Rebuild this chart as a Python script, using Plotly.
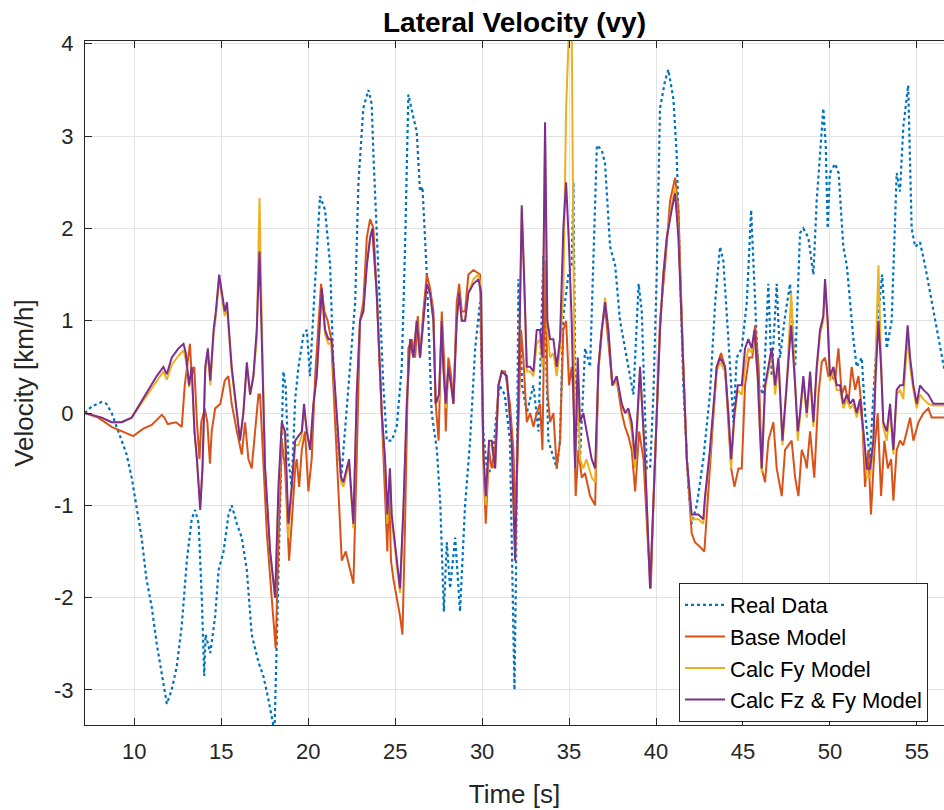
import plotly.graph_objects as go

# ---------------- data ----------------
t_real = [7.15, 7.54, 8.12, 8.4, 8.7, 8.98, 9.27, 9.56, 9.85, 10.13, 10.42, 10.7, 11.0, 11.29, 11.58, 11.87,
          12.15, 12.44, 12.73, 13.02, 13.3, 13.5, 13.7, 13.88, 14.02, 14.1, 14.37, 14.65, 14.85, 15.13, 15.42,
          15.6, 15.9, 16.18, 16.47, 16.75, 17.14, 17.42, 17.71, 17.9, 18.06, 18.19, 18.33, 18.44, 18.57, 18.7,
          18.86, 19.05, 19.25, 19.44, 19.73, 19.92, 20.1, 20.36, 20.68, 20.97, 21.26, 21.45, 21.64, 21.9, 22.12,
          22.4, 22.7, 22.89, 23.17, 23.46, 23.65, 23.75, 24.04, 24.32, 24.52, 24.8, 25.09, 25.38, 25.57, 25.76,
          26.05, 26.24, 26.43, 26.57, 26.82, 27.1, 27.4, 27.6, 27.8, 27.97, 28.16, 28.45, 28.73, 29.02, 29.31,
          29.6, 29.88, 30.07, 30.3, 30.6, 30.75, 31.0, 31.3, 31.6, 31.86, 31.95, 32.09, 32.3, 32.57, 32.95,
          33.24, 33.52, 33.81, 34.29, 34.48, 34.67, 34.96, 35.15, 35.25, 35.35, 35.63, 35.92, 36.21, 36.6,
          36.88, 37.07, 37.36, 37.65, 37.93, 38.32, 38.7, 39.0, 39.18, 39.47, 39.66, 39.85, 40.04, 40.23, 40.52,
          40.71, 41.0, 41.19, 41.38, 41.57, 41.86, 42.05, 42.34, 42.72, 43.1, 43.4, 43.68, 43.87, 44.16, 44.45,
          44.64, 44.93, 45.22, 45.47, 45.7, 45.9, 46.17, 46.46, 46.65, 46.94, 47.13, 47.42, 47.71, 48.0, 48.28,
          48.47, 48.76, 49.05, 49.24, 49.43, 49.62, 49.76, 49.87, 50.0, 50.3, 50.5, 50.77, 50.97, 51.16, 51.35,
          51.54, 51.83, 52.02, 52.3, 52.5, 52.8, 53.0, 53.27, 53.55, 53.84, 54.03, 54.22, 54.5, 54.7, 54.9,
          55.18, 55.47, 55.85, 56.24, 56.6]
v_real = [0.0, 0.07, 0.12, 0.1, 0.0, -0.15, -0.3, -0.45, -0.7, -1.0, -1.35, -1.8, -2.1, -2.5, -2.85, -3.15,
          -3.0, -2.75, -2.3, -1.6, -1.15, -1.05, -1.2, -2.0, -2.85, -2.4, -2.6, -2.2, -1.7, -1.5, -1.1,
          -1.0, -1.2, -1.35, -1.7, -2.4, -2.7, -2.85, -3.1, -3.3, -3.45, -2.5, -1.5, -0.6, 0.45, 0.3,
          -0.5, -0.8, 0.15, 0.5, 0.85, 0.9, 0.4, 1.3, 2.35, 2.2, 1.6, 0.5, -0.2, -0.7, -0.15,
          0.5, 1.2, 2.5, 3.3, 3.5, 3.35, 2.8, 1.5, 0.3, -0.3, -0.3, -0.15, 0.5, 1.8, 3.45,
          3.2, 3.05, 2.4, 2.45, 1.5, 0.0, -0.4, -1.0, -2.15, -1.4, -1.9, -1.35, -2.15, -1.0, -0.3,
          0.7, 1.2, -0.2, -0.65, -0.6, -0.15, 0.3, 0.2, -0.3, -3.0, -1.7, 1.45, 0.3, 0.0, 0.3,
          -0.2, 1.7, -0.3, -0.6, -0.3, 1.05, 1.5, 1.6, 2.5, 0.5, -0.5, 0.7, 0.5, 2.9,
          2.85, 2.7, 1.8, 1.6, 1.0, 0.6, 0.2, 1.4, 1.1, -0.6, -0.6, 0.2, 1.5, 3.3, 3.6,
          3.72, 3.4, 2.8, 1.5, 0.3, -0.8, -1.2, -1.0, -0.5, 0.2, 1.2, 1.8, 1.65, 0.8, -0.1,
          0.6, 0.7, 1.2, 2.2, 1.2, 0.3, 0.2, 1.4, 0.4, 1.4, 0.6, 1.05, 1.4, 0.5, 1.95,
          2.0, 1.9, 1.5, 2.3, 2.8, 3.3, 2.9, 2.0, 2.6, 2.7, 2.6, 1.8, 1.6, 1.2, 0.8,
          0.5, 0.6, 0.0, -0.5, 0.2, 1.1, 1.5, 0.7, 1.0, 2.6, 2.4, 3.1, 3.55, 2.0, 1.8,
          1.85, 1.6, 1.2, 0.8, 0.45]

t_base = [7.15, 7.92, 8.7, 9.27, 9.94, 10.52, 11.0, 11.58, 11.73, 11.92, 12.4, 12.73, 12.9, 13.1, 13.2, 13.3,
          13.45, 13.6, 13.75, 13.85, 14.05, 14.2, 14.35, 14.45, 14.65, 14.95, 15.2, 15.41, 15.6, 15.9, 16.18,
          16.37, 16.56, 16.75, 16.94, 17.14, 17.23, 17.42, 17.62, 17.9, 18.13, 18.29, 18.48, 18.67, 18.9, 19.05,
          19.25, 19.34, 19.48, 19.63, 19.82, 20.01, 20.2, 20.4, 20.74, 20.93, 21.12, 21.32, 21.55, 21.74, 21.93,
          22.16, 22.41, 22.6, 22.79, 22.98, 23.17, 23.37, 23.56, 23.75, 23.94, 24.23, 24.42, 24.55, 24.65, 24.76,
          24.9, 25.09, 25.28, 25.42, 25.57, 25.76, 25.96, 26.15, 26.3, 26.43, 26.62, 26.82, 27.01, 27.2, 27.33,
          27.5, 27.68, 27.83, 27.91, 28.06, 28.22, 28.35, 28.54, 28.68, 28.83, 29.02, 29.21, 29.5, 29.88, 30.07,
          30.21, 30.4, 30.55, 30.75, 30.94, 31.13, 31.32, 31.6, 31.8, 31.93, 32.09, 32.24, 32.37, 32.57, 32.76,
          32.95, 33.14, 33.33, 33.47, 33.62, 33.77, 33.91, 34.1, 34.29, 34.48, 34.67, 34.83, 35.0, 35.15, 35.25,
          35.38, 35.54, 35.73, 35.92, 36.21, 36.5, 36.69, 36.88, 37.07, 37.26, 37.49, 37.74, 38.03, 38.22, 38.41,
          38.6, 38.8, 39.03, 39.28, 39.56, 39.7, 39.85, 40.04, 40.23, 40.52, 40.81, 41.1, 41.29, 41.57, 41.77,
          42.05, 42.24, 42.53, 42.78, 42.92, 43.1, 43.3, 43.49, 43.74, 43.97, 44.16, 44.32, 44.51, 44.74, 44.93,
          45.12, 45.35, 45.54, 45.7, 45.9, 46.08, 46.27, 46.46, 46.75, 46.94, 47.23, 47.42, 47.61, 47.8, 48.0,
          48.19, 48.38, 48.57, 48.67, 48.86, 49.1, 49.34, 49.53, 49.72, 49.91, 50.1, 50.3, 50.49, 50.68, 50.87,
          51.06, 51.25, 51.45, 51.64, 51.83, 52.02, 52.21, 52.36, 52.56, 52.75, 52.94, 53.13, 53.33, 53.52, 53.65,
          53.84, 54.03, 54.22, 54.42, 54.61, 54.8, 55.09, 55.38, 55.66, 55.85, 56.24, 56.6]
v_base = [0.0, -0.05, -0.15, -0.2, -0.25, -0.17, -0.13, -0.02, -0.05, -0.12, -0.1, -0.15, 0.3, 0.6, 0.75, 0.4,
          0.5, -0.1, -0.5, -0.1, 0.05, -0.1, -0.55, -0.2, 0.05, 0.1, 0.35, 0.4, 0.1, -0.2, -0.45,
          -0.1, -0.5, -0.6, -0.2, 0.2, 0.2, -0.5, -1.3, -2.0, -2.55, -1.4, -0.3, -0.6, -1.6, -1.2,
          -0.6, -0.5, -0.8, -0.4, -0.2, -0.85, -0.5, 0.4, 1.4, 1.1, 1.0, 0.8, -0.1, -0.9, -1.6,
          -1.5, -1.7, -1.85, -0.5, 1.0, 1.2, 1.9, 2.1, 2.0, 1.3, 0.0, -0.8, -1.5, -0.8, -1.6,
          -1.8, -2.0, -2.2, -2.4, -1.2, 0.7, 0.8, 0.6, 1.05, 0.6, 1.1, 1.5, 1.35, 1.1, 0.1,
          -0.3, 1.1, 0.5, -0.2, 0.6, 0.4, 0.1, 1.2, 1.4, 1.1, 1.1, 1.5, 1.55, 1.5, -0.5,
          -1.2, -0.4, -0.6, -0.4, 0.3, 0.45, 0.45, 0.1, -0.4, -1.2, -0.1, 0.9, 0.6, -0.1, 0.0,
          -0.15, 0.0, 0.1, -0.4, 1.65, 0.2, -0.1, 0.0, -0.6, -0.3, 0.9, 1.0, 0.3, 0.5, 0.2,
          -0.9, -0.4, -0.7, -0.65, -0.9, -1.0, 0.5, 0.9, 1.15, 0.8, 0.3, 0.35, 0.0, -0.15, -0.25,
          -0.4, -0.85, -0.2, -0.5, -1.5, -1.9, -1.0, 0.0, 1.0, 1.6, 2.3, 2.55, 2.2, 0.5, -0.5,
          -1.3, -1.4, -1.45, -1.5, -1.1, -0.6, -0.1, 0.5, 0.65, 0.5, -0.1, -0.6, -0.8, -0.6, -0.6,
          0.3, 0.6, 0.6, 0.95, 0.5, -0.6, -0.75, -0.3, -0.1, -0.6, -0.9, -0.4, -0.35, -0.3, -0.7,
          -0.9, -0.4, -0.5, -0.6, -0.2, -0.7, 0.2, 0.55, 0.6, 0.4, 0.4, 0.35, 0.7, 0.2, 0.3,
          0.1, 0.5, 0.25, 0.4, 0.05, -0.8, -0.4, -1.1, -0.4, 0.0, -0.9, -0.3, -0.6, -0.5, -0.95,
          -0.4, -0.3, -0.35, -0.2, -0.05, -0.3, -0.1, 0.0, 0.05, -0.05, -0.05, -0.05]

t_model = [7.15, 8.12, 8.7, 9.27, 9.85, 10.33, 10.8, 11.29, 11.67, 11.87, 12.15, 12.54, 12.83, 12.96, 13.15,
           13.3, 13.46, 13.6, 13.79, 13.92, 14.08, 14.23, 14.37, 14.56, 14.69, 14.88, 15.04, 15.2, 15.33, 15.46,
           15.6, 15.9, 16.08, 16.27, 16.47, 16.66, 16.85, 17.04, 17.2, 17.33, 17.52, 17.81, 18.1, 18.29, 18.48,
           18.67, 18.86, 19.05, 19.25, 19.44, 19.63, 19.76, 19.92, 20.11, 20.3, 20.49, 20.78, 20.97, 21.16, 21.35,
           21.64, 21.89, 22.02, 22.35, 22.6, 22.79, 22.98, 23.17, 23.37, 23.56, 23.69, 23.94, 24.23, 24.42, 24.55,
           24.7, 24.8, 24.99, 25.28, 25.48, 25.67, 25.86, 26.05, 26.24, 26.43, 26.62, 26.82, 27.01, 27.2, 27.33,
           27.52, 27.68, 27.77, 27.91, 28.06, 28.22, 28.35, 28.54, 28.68, 28.83, 29.02, 29.21, 29.5, 29.79, 29.94,
           30.07, 30.21, 30.4, 30.55, 30.75, 30.94, 31.13, 31.42, 31.7, 31.9, 32.09, 32.28, 32.41, 32.57, 32.76,
           32.95, 33.14, 33.33, 33.47, 33.62, 33.75, 33.91, 34.1, 34.29, 34.48, 34.67, 34.83, 35.0, 35.15, 35.25,
           35.35, 35.5, 35.63, 35.82, 36.0, 36.3, 36.5, 36.69, 36.88, 37.07, 37.26, 37.49, 37.74, 38.03, 38.22,
           38.41, 38.6, 38.8, 39.08, 39.37, 39.66, 39.85, 40.04, 40.23, 40.42, 40.62, 40.9, 41.1, 41.29, 41.57,
           41.77, 42.05, 42.44, 42.72, 42.82, 43.1, 43.3, 43.49, 43.68, 43.97, 44.16, 44.32, 44.51, 44.7, 44.93,
           45.12, 45.31, 45.5, 45.66, 45.85, 45.98, 46.08, 46.27, 46.46, 46.65, 46.85, 47.04, 47.27, 47.52, 47.77,
           48.0, 48.15, 48.28, 48.47, 48.67, 48.86, 49.05, 49.24, 49.43, 49.62, 49.72, 49.87, 50.0, 50.2, 50.39,
           50.58, 50.77, 50.97, 51.16, 51.35, 51.54, 51.73, 51.93, 52.12, 52.31, 52.5, 52.63, 52.79, 52.94, 53.07,
           53.27, 53.46, 53.65, 53.84, 54.03, 54.22, 54.47, 54.61, 54.8, 54.99, 55.18, 55.38, 55.66, 55.95, 56.24,
           56.6]
v_fzfy = [0.0, -0.05, -0.1, -0.1, -0.05, 0.1, 0.25, 0.4, 0.5, 0.42, 0.6, 0.7, 0.75, 0.65, 0.3,
          0.5, -0.2, -0.5, -1.05, -0.6, 0.5, 0.7, 0.35, 0.9, 1.1, 1.5, 1.3, 1.1, 1.2, 0.8,
          0.5, 0.0, -0.3, 0.0, 0.55, 0.2, 0.4, 0.9, 1.75, 0.8, -0.6, -1.5, -2.0, -0.8, -0.1,
          -0.2, -1.2, -0.8, -0.3, -0.25, -0.2, 0.1, -0.2, -0.4, 0.1, 0.4, 1.35, 0.9, 0.8, 0.8,
          0.0, -0.7, -0.75, -0.5, -1.2, 0.2, 1.0, 1.1, 1.6, 1.9, 2.0, 1.3, 0.0, -0.5, -1.1,
          -0.6, -1.1, -1.4, -1.9, -1.0, 0.1, 0.8, 0.6, 1.0, 0.6, 1.0, 1.4, 1.3, 1.0, 0.1,
          0.2, 1.0, 0.5, 0.1, 0.5, 0.3, 0.1, 1.0, 1.3, 1.0, 1.0, 1.3, 1.4, 1.45, 1.3,
          -0.4, -0.9, -0.3, -0.3, -0.6, 0.3, 0.45, 0.4, -0.3, -1.6, 0.2, 2.25, 1.5, 0.5, 0.5,
          0.45, 0.9, 0.9, 0.6, 3.15, 1.0, 0.8, 0.8, 0.5, 0.8, 2.0, 2.5, 1.8, 1.0, 0.3,
          -0.6, 0.6, -0.1, 0.0, -0.2, -0.5, -0.6, 0.5, 0.9, 1.2, 0.9, 0.3, 0.4, 0.1, 0.0,
          0.05, -0.1, -0.5, 0.5, -0.5, -1.9, -1.0, 0.0, 0.9, 1.5, 1.9, 2.2, 2.38, 1.9, 0.4,
          -0.5, -1.1, -1.1, -1.15, -0.9, -0.4, 0.1, 0.5, 0.6, 0.5, 0.0, -0.5, 0.0, 0.3, 0.3,
          0.7, 0.8, 0.7, 0.9, 0.4, -0.2, -0.6, 0.3, 0.5, 0.7, 0.3, 0.6, -0.3, 0.3, 0.95,
          0.3, -0.2, 0.0, 0.4, 0.0, 0.45, -0.1, 0.5, 0.9, 1.05, 1.45, 1.0, 0.4, 0.5, 0.3,
          0.3, 0.1, 0.2, 0.1, 0.15, 0.0, 0.15, -0.2, -0.6, -0.6, -0.3, 0.4, 1.0, 0.5, -0.1,
          -0.2, 0.1, -0.4, 0.25, 0.3, 0.3, 0.95, 0.6, 0.3, 0.1, 0.3, 0.25, 0.2, 0.1, 0.1,
          0.1]
v_fy = [0.0, -0.05, -0.1, -0.1, -0.05, 0.08, 0.22, 0.35, 0.45, 0.36, 0.52, 0.62, 0.68, 0.58, 0.28,
        0.45, -0.2, -0.5, -1.0, -0.6, 0.45, 0.65, 0.3, 0.85, 1.05, 1.45, 1.25, 1.05, 1.15, 0.75,
        0.45, 0.0, -0.3, 0.0, 0.5, 0.2, 0.4, 0.8, 2.33, 1.0, -0.6, -1.5, -2.0, -0.9, -0.15,
        -0.25, -1.35, -0.85, -0.35, -0.35, -0.25, 0.05, -0.2, -0.4, 0.1, 0.4, 1.3, 0.85, 0.75, 0.75,
        0.0, -0.75, -0.8, -0.55, -1.25, 0.2, 1.0, 1.1, 1.6, 1.9, 1.95, 1.3, 0.0, -0.55, -1.2,
        -0.65, -1.15, -1.45, -1.95, -1.05, 0.1, 0.75, 0.6, 1.0, 0.6, 1.0, 1.4, 1.3, 1.0, 0.1,
        0.15, 1.0, 0.5, 0.05, 0.5, 0.3, 0.1, 1.0, 1.3, 1.0, 1.0, 1.3, 1.45, 1.5, 1.35,
        -0.45, -1.0, -0.35, -0.35, -0.6, 0.3, 0.45, 0.4, -0.3, -1.6, 0.2, 2.2, 1.5, 0.45, 0.45,
        0.4, 0.75, 0.8, 0.5, 3.0, 0.9, 0.6, 0.65, 0.4, 0.7, 1.3, 3.3, 4.2, 4.2, 2.0,
        -0.6, 0.3, -0.5, -0.6, -0.5, -0.7, -0.75, 0.45, 0.9, 1.25, 0.9, 0.3, 0.35, 0.1, 0.0,
        0.0, -0.2, -0.6, 0.45, -0.5, -1.9, -1.0, 0.0, 0.9, 1.5, 1.9, 2.25, 2.45, 1.95, 0.4,
        -0.5, -1.15, -1.15, -1.2, -0.95, -0.45, 0.05, 0.45, 0.55, 0.45, 0.0, -0.6, -0.05, 0.25, 0.2,
        0.5, 0.7, 0.65, 0.85, 0.35, -0.2, -0.65, 0.25, 0.45, 0.65, 0.2, 0.55, -0.35, 0.3, 1.3,
        0.3, -0.3, -0.05, 0.35, -0.05, 0.4, -0.15, 0.45, 0.85, 1.0, 1.4, 0.95, 0.35, 0.45, 0.25,
        0.25, 0.05, 0.15, 0.05, 0.1, -0.05, 0.1, -0.25, -0.7, -0.7, -0.35, 0.6, 1.6, 0.6, -0.15,
        -0.3, 0.05, -0.45, 0.2, 0.25, 0.15, 0.85, 0.5, 0.25, 0.05, 0.2, 0.15, 0.1, 0.08, 0.08,
        0.08]

series_names = ["Real Data", "Base Model", "Calc Fy Model", "Calc Fz & Fy Model"]
x_tick_vals = [10, 15, 20, 25, 30, 35, 40, 45, 50, 55]
x_tick_text = ["10", "15", "20", "25", "30", "35", "40", "45", "50", "55"]
y_tick_vals = [-3, -2, -1, 0, 1, 2, 3, 4]
y_tick_text = ["-3", "-2", "-1", "0", "1", "2", "3", "4"]

# ---------------- figure ----------------
FONT = "Liberation Sans, Arial, Helvetica, sans-serif"
AX = "#262626"

fig = go.Figure()
fig.add_trace(go.Scatter(x=t_real, y=v_real, mode="lines", name=series_names[0],
                         line=dict(color="#0072BD", width=2.2, dash="dot")))
fig.add_trace(go.Scatter(x=t_base, y=v_base, mode="lines", name=series_names[1],
                         line=dict(color="#D95319", width=2)))
fig.add_trace(go.Scatter(x=t_model, y=v_fy, mode="lines", name=series_names[2],
                         line=dict(color="#EDB120", width=2)))
fig.add_trace(go.Scatter(x=t_model, y=v_fzfy, mode="lines", name=series_names[3],
                         line=dict(color="#7E2F8E", width=2)))

fig.update_layout(
    width=944, height=810,
    margin=dict(l=85, r=0, t=41, b=85, autoexpand=False),
    paper_bgcolor="white", plot_bgcolor="white",
    font=dict(family=FONT, color=AX, size=22),
    title=dict(text="<b>Lateral Velocity (vy)</b>", x=0.5, xref="paper", xanchor="center",
               y=1 - 22 / 810, yref="container", yanchor="middle",
               font=dict(family=FONT, size=28, color="black")),
    showlegend=True,
    legend=dict(x=0.6915, y=0.2076, xanchor="left", yanchor="top",
                bgcolor="white", bordercolor=AX, borderwidth=1,
                font=dict(family=FONT, size=22, color="black"),
                itemwidth=40, tracegroupgap=0),
    xaxis=dict(range=[7.165, 56.56], tickvals=x_tick_vals, ticktext=x_tick_text,
               showgrid=True, gridcolor="#E3E3E3", gridwidth=1, zeroline=False,
               showline=True, linecolor=AX, linewidth=1, mirror="ticks",
               ticks="inside", ticklen=7, tickcolor=AX, tickwidth=1,
               tickfont=dict(family=FONT, size=22, color=AX), ticklabelstandoff=7,
               title=dict(text="Time [s]", font=dict(family=FONT, size=26, color=AX), standoff=21)),
    yaxis=dict(range=[-3.38, 4.03], tickvals=y_tick_vals, ticktext=y_tick_text,
               showgrid=True, gridcolor="#E3E3E3", gridwidth=1, zeroline=False,
               showline=True, linecolor=AX, linewidth=1, mirror=False,
               ticks="inside", ticklen=7, tickcolor=AX, tickwidth=1,
               tickfont=dict(family=FONT, size=22, color=AX), ticklabelstandoff=6,
               title=dict(text="Velocity [km/h]", font=dict(family=FONT, size=26, color=AX), standoff=12)),
)

fig.write_html("out.html")
